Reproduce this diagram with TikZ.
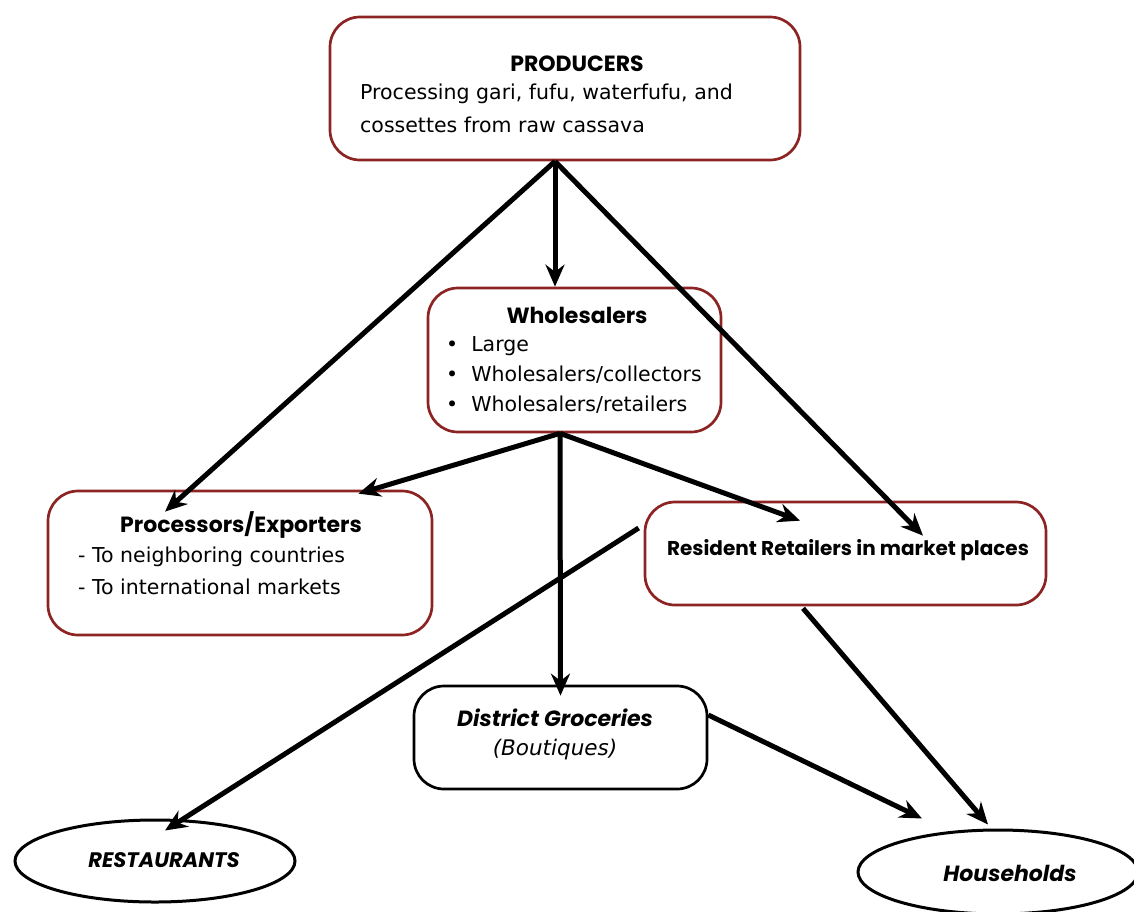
\documentclass[tikz,border=0pt]{standalone}
\usepackage{fontspec}
\setmainfont{DejaVu Sans}
\newfontfamily\headfont{Poppins}
\usepackage{tikz}
\usetikzlibrary{calc,positioning,shapes.geometric,arrows.meta}
\definecolor{boxred}{RGB}{140,36,36}
\begin{document}
\begin{tikzpicture}[x=1pt,y=-1pt,>={Stealth[length=22pt,width=19pt]},
  redbox/.style={draw=boxred,line width=2.7pt,rounded corners=30pt},
  blackbox/.style={draw=black,line width=2.7pt,rounded corners=30pt},
  oval/.style={draw=black,ellipse,line width=3pt},
  head/.style={font=\headfont\fontsize{22}{26}\selectfont\bfseries,inner sep=0pt},
  body/.style={font=\fontsize{20.5}{24}\selectfont,inner sep=0pt,anchor=west},
  flow/.style={->,line width=5pt}]
\useasboundingbox (0,0) rectangle (1134,911);
% boxes
\node[redbox,minimum width=470,minimum height=143] (prod) at (565,88.5) {};
\node[redbox,minimum width=293,minimum height=144] (whole) at (574.5,360) {};
\node[redbox,minimum width=384,minimum height=144] (proc) at (240,563) {};
\node[redbox,minimum width=401,minimum height=103] (resid) at (845.5,553.5) {};
\node[blackbox,minimum width=293,minimum height=103] (dist) at (560.5,737.5) {};
\node[oval,minimum width=280,minimum height=82] (rest) at (155,861) {};
\node[oval,minimum width=280,minimum height=84] (house) at (998,872) {};
% texts
\node[head] (prodT) at (577,64) {PRODUCERS};
\node[body] (prodL1) at (360,94) {Processing gari, fufu, waterfufu, and};
\node[body] (prodL2) at (360,125) {cossettes from raw cassava};
\node[head] (wholeT) at (577,315) {Wholesalers};
\node[body] (wholeL1) at (446,346) {•\ \ Large};
\node[body] (wholeL2) at (446,375) {•\ \ Wholesalers/collectors};
\node[body] (wholeL3) at (446,405) {•\ \ Wholesalers/retailers};
\node[head] (procT) at (241,525) {Processors/Exporters};
\node[body] (procL1) at (78,557) {- To neighboring countries};
\node[body] (procL2) at (78,587) {- To international markets};
\node[head,font=\headfont\fontsize{20}{24}\selectfont\bfseries] (residT) at (848,550) {Resident Retailers in market places};
\node[head,font=\headfont\fontsize{22}{26}\selectfont\bfseries\itshape] (distT) at (555,718) {District Groceries};
\node[body,anchor=center,font=\fontsize{21.5}{24}\selectfont\itshape] (distL) at (555,750) {(Boutiques)};
\node[head,font=\headfont\fontsize{21}{25}\selectfont\bfseries\itshape] (restT) at (164,860) {RESTAURANTS};
\node[head,font=\headfont\fontsize{22}{26}\selectfont\bfseries\itshape] (houseT) at (1010,873) {Households};
% arrow ends
\coordinate (prodOut) at ($(prod.south)+(-10,0)$);
\coordinate (wholeOut) at ($(whole.south)+(-14.5,0)$);
\coordinate (wholeIn) at ($(whole.north)+(-19.5,0)$);
\coordinate (procIn1) at ($(proc.north)+(-75,22)$);
\coordinate (procIn2) at ($(proc.north east)+(-75,4)$);
\coordinate (residIn1) at ($(resid.north)+(77.5,35)$);
\coordinate (residIn2) at ($(resid.north)+(-45.5,20)$);
\coordinate (residOut1) at ($(resid.west)+(-5,-25.5)$);
\coordinate (residOut2) at ($(resid.south)+(-42.5,2)$);
\coordinate (distIn) at ($(dist.north)+(0,11)$);
\coordinate (distOut) at ($(dist.east)+(0,-22.5)$);
\coordinate (restIn) at ($(rest.north)+(10,12)$);
\coordinate (houseIn1) at ($(house.north)+(-76,-10)$);
\coordinate (houseIn2) at ($(house.north)+(-10,-4)$);
% arrows
\draw[flow] (prodOut) -- (wholeIn);
\draw[flow] (prodOut) -- (procIn1);
\draw[flow] (prodOut) -- (residIn1);
\draw[flow] (wholeOut) -- (procIn2);
\draw[flow] (wholeOut) -- (residIn2);
\draw[flow] (wholeOut) -- (distIn);
\draw[flow] (residOut1) -- (restIn);
\draw[flow] (distOut) -- (houseIn1);
\draw[flow] (residOut2) -- (houseIn2);
\end{tikzpicture}
\end{document}
